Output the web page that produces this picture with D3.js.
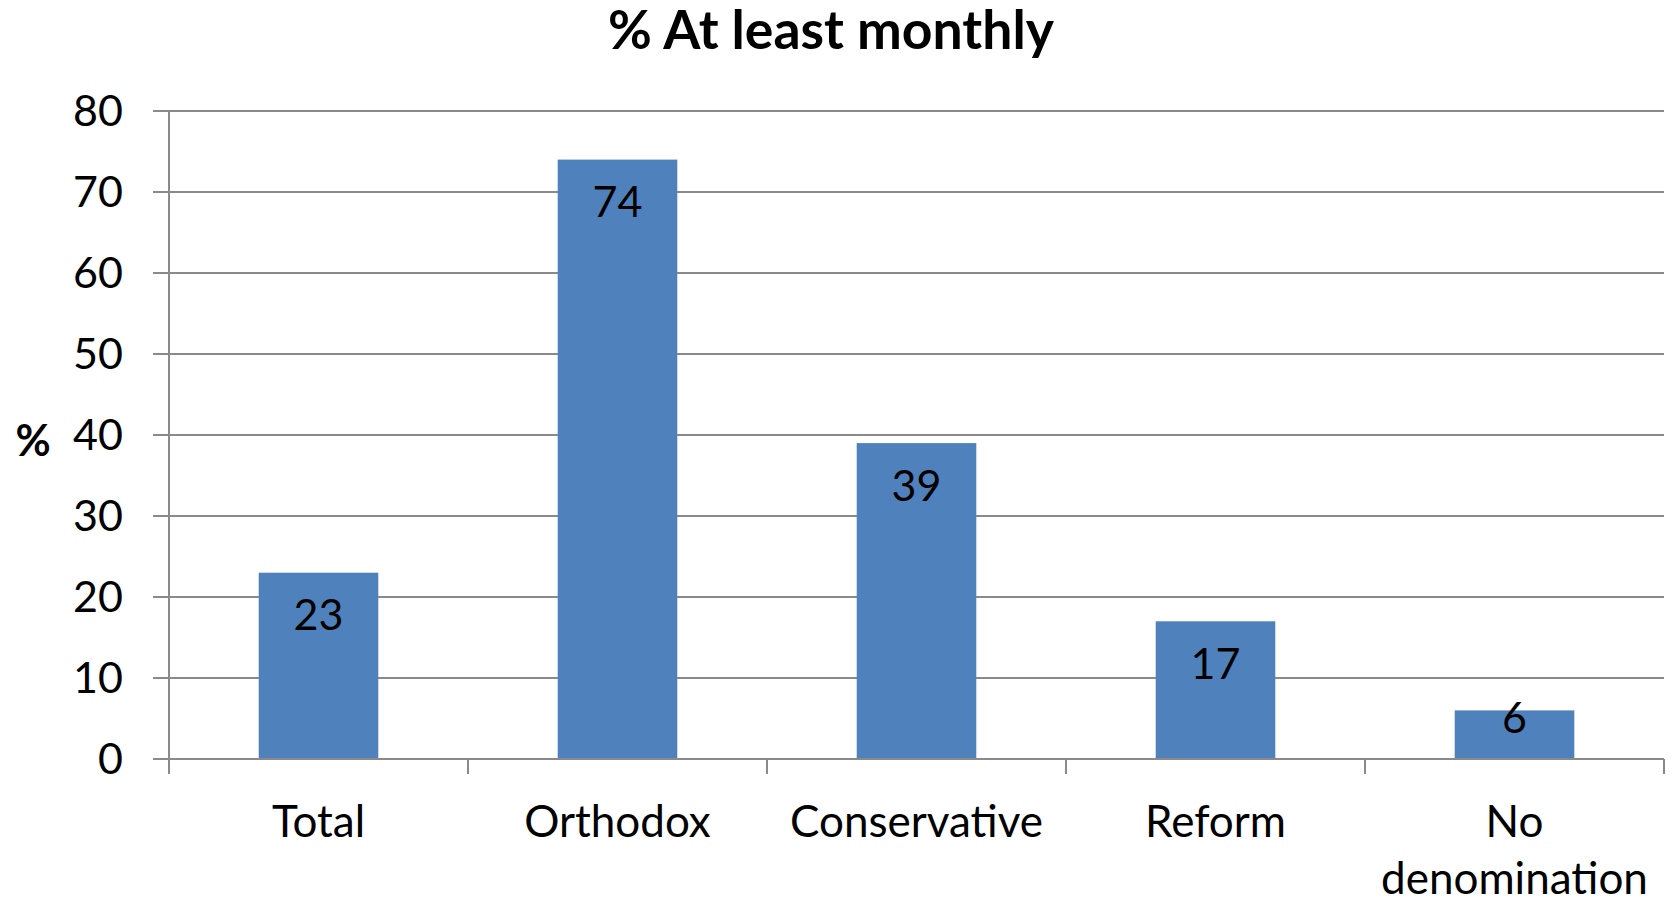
<!DOCTYPE html>
<html><head><meta charset="utf-8">
<script src="https://cdn.jsdelivr.net/npm/d3@7"></script>
<style>
html,body{margin:0;padding:0;background:#fff;}
text{font-family:Lato,"Open Sans",sans-serif;fill:#000;}
</style></head>
<body>
<svg id="c" width="1673" height="898"></svg>
<script>
const categories = ["Total","Orthodox","Conservative","Reform","No denomination"];
const categoryLines = [["Total"],["Orthodox"],["Conservative"],["Reform"],["No","denomination"]];
const values = [23,74,39,17,6];
const yTicks = [0,10,20,30,40,50,60,70,80];
const title = "% At least monthly";
const yLabel = "%";

const svg = d3.select("#c");
const L=169, R=1664, T=111, B=759;
const x = d3.scaleBand().domain(categories).range([L,R]).paddingInner(0.6).paddingOuter(0.3);
const xb = d3.scaleBand().domain(categories).range([L,R]).padding(0);
const y = d3.scaleLinear().domain([0,80]).range([B,T]);
const grey="#8a8a8a";

// gridlines
svg.append("g").selectAll("line").data(yTicks).join("line")
  .attr("x1",153).attr("x2",R).attr("y1",d=>y(d)).attr("y2",d=>y(d))
  .attr("stroke",grey).attr("stroke-width",2);
// y axis line
svg.append("line").attr("x1",L).attr("x2",L).attr("y1",T).attr("y2",B+15).attr("stroke",grey).attr("stroke-width",2);
// x tick marks at band boundaries
const bounds = categories.map(c=>xb(c)).concat([R]);
svg.append("g").selectAll("line").data(bounds.slice(1)).join("line")
  .attr("x1",d=>d).attr("x2",d=>d).attr("y1",B).attr("y2",B+15).attr("stroke",grey).attr("stroke-width",2);

// y tick labels
svg.append("g").selectAll("text").data(yTicks).join("text")
  .attr("x",123).attr("y",d=>y(d)).attr("dy","0.36em").attr("text-anchor","end")
  .attr("font-size",43).text(d=>d);

// bars
svg.append("g").selectAll("rect").data(values).join("rect")
  .attr("x",(d,i)=>x(categories[i])).attr("width",x.bandwidth())
  .attr("y",d=>y(d)).attr("height",d=>B-y(d)).attr("fill","#4F81BD");
// re-draw baseline over bars
svg.append("line").attr("x1",153).attr("x2",R).attr("y1",B).attr("y2",B).attr("stroke",grey).attr("stroke-width",2);

// value labels
svg.append("g").selectAll("text").data(values).join("text")
  .attr("x",(d,i)=>x(categories[i])+x.bandwidth()/2)
  .attr("y",d=>Math.min(y(d)+42, B-41))
  .attr("dy","0.36em").attr("text-anchor","middle").attr("font-size",43).text(d=>d);

// category labels
const cl = svg.append("g").selectAll("text").data(categoryLines).join("text")
  .attr("text-anchor","middle").attr("font-size",44)
  .attr("x",(d,i)=>xb(categories[i])+xb.bandwidth()/2).attr("y",837);
cl.selectAll("tspan").data(d=>d).join("tspan")
  .attr("x",function(){return this.parentNode.getAttribute("x");})
  .attr("dy",(d,i)=>i===0?0:57).text(d=>d);

// title
svg.append("text").attr("x",831).attr("y",49).attr("text-anchor","middle")
  .attr("font-size",53.5).attr("font-weight","bold").text(title);
// y label
svg.append("text").attr("x",33).attr("y",441).attr("dy","0.36em").attr("text-anchor","middle")
  .attr("font-size",43).attr("font-weight","bold").text(yLabel);
</script>
</body></html>
